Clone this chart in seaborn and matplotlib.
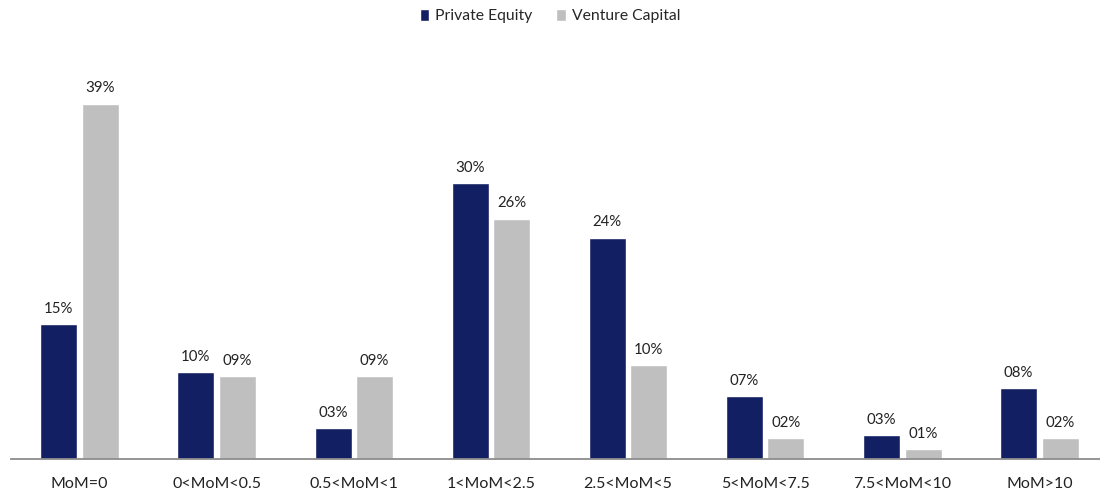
import numpy as np
import pandas as pd
import seaborn as sns
import matplotlib.pyplot as plt

# values (percent of deals)
categories = ['MoM=0', '0<MoM<0.5', '0.5<MoM<1', '1<MoM<2.5',
              '2.5<MoM<5', '5<MoM<7.5', '7.5<MoM<10', 'MoM>10']
private_equity = [14.8, 9.5, 3.4, 30.3, 24.3, 6.9, 2.6, 7.8]
venture_capital = [39.0, 9.1, 9.1, 26.4, 10.3, 2.3, 1.1, 2.3]
series_names = ['Private Equity', 'Venture Capital']
colors = ['#131F63', '#BFBFBF']

df = pd.DataFrame({
    'bucket': categories * 2,
    'share': private_equity + venture_capital,
    'fund': [series_names[0]] * len(categories) + [series_names[1]] * len(categories),
})

sns.set_theme(style='white')
plt.rcParams['font.family'] = ['Lato', 'DejaVu Sans']

fig = plt.figure(figsize=(11, 4.94), dpi=100)
ax = fig.add_axes([11 / 1100, 35 / 494, 1097 / 1100, 419 / 494])

sns.barplot(data=df, x='bucket', y='share', hue='fund', order=categories,
            hue_order=series_names, palette=colors, width=0.606, gap=0.11,
            saturation=1, ax=ax)

# value labels like "09%"
for cont in ax.containers:
    ax.bar_label(cont, labels=[f'{round(v):02d}%' for v in cont.datavalues],
                 padding=6, fontsize=10.8, color='#222222')

ax.set_ylim(0, 46)
ax.set_xlabel('')
ax.set_ylabel('')
ax.set_yticks([])
for side in ['top', 'right', 'left']:
    ax.spines[side].set_visible(False)
ax.spines['bottom'].set_color('#8C8C8C')
ax.spines['bottom'].set_linewidth(1.3)
ax.tick_params(axis='x', length=0, pad=13, labelsize=11.5, labelcolor='#222222')

handles, labels = ax.get_legend_handles_labels()
ax.legend_.remove()
fig.legend(handles, labels, loc='center', bbox_to_anchor=(0.5, 1 - 16 / 494),
           ncol=2, frameon=False, fontsize=11.3, handlelength=0.6, handleheight=0.8,
           handletextpad=0.4, columnspacing=1.5)

fig.savefig('out.png', dpi=100)
